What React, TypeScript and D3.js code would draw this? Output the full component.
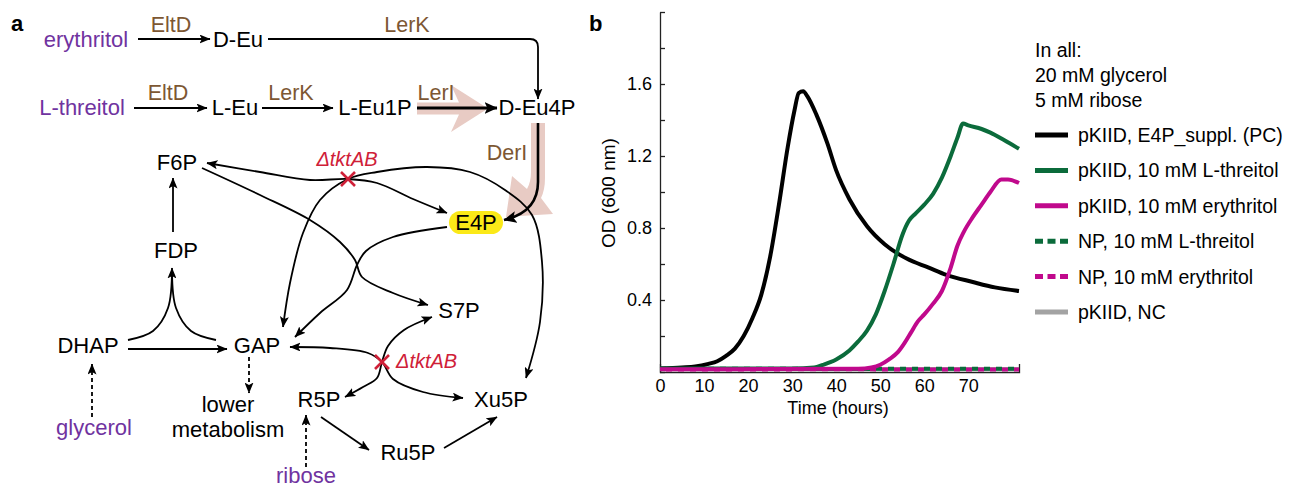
import React, { useEffect, useRef } from 'react';
import * as d3 from 'd3';

// growth curves, [time (h), OD600]
const pkiidSuppl: [number, number][] = [
  [0, 0.02], [5, 0.025], [8, 0.03], [11, 0.045], [13, 0.06], [15, 0.09], [17, 0.13],
  [19, 0.2], [21, 0.3], [23, 0.43], [25, 0.64], [27, 0.93], [29, 1.25], [30.5, 1.45],
  [31.5, 1.55], [32.5, 1.56], [33.5, 1.53], [35.5, 1.43], [38, 1.27], [40, 1.12],
  [43, 0.96], [47, 0.81], [51, 0.71], [56, 0.63], [61, 0.58], [65, 0.54], [71, 0.5],
  [76, 0.47], [81.5, 0.45],
];
const pkiidThreitol: [number, number][] = [
  [0, 0.02], [30, 0.02], [35, 0.025], [37, 0.04], [40, 0.07], [43, 0.12], [45, 0.17],
  [47, 0.23], [49, 0.32], [51, 0.45], [53, 0.6], [55, 0.76], [56.5, 0.84], [58, 0.88],
  [60, 0.93], [62, 0.99], [64, 1.08], [66, 1.2], [67.5, 1.3], [68.8, 1.38], [70, 1.37],
  [73, 1.35], [75, 1.33], [78, 1.29], [81.5, 1.24],
];
const pkiidErythritol: [number, number][] = [
  [0, 0.015], [45, 0.018], [48, 0.025], [50, 0.04], [52, 0.07], [54, 0.11], [55.5, 0.16],
  [57, 0.22], [58.5, 0.28], [60, 0.32], [62, 0.38], [64, 0.45], [66, 0.58], [67.5, 0.7],
  [69, 0.78], [71, 0.86], [73, 0.93], [75, 1.0], [77.5, 1.07], [79, 1.07], [81.5, 1.05],
];
const npThreitol: [number, number][] = [
  [0, 0.018], [20, 0.018], [40, 0.017], [60, 0.018], [81.5, 0.018],
];
const npErythritol: [number, number][] = [
  [0, 0.014], [20, 0.014], [40, 0.015], [60, 0.014], [81.5, 0.014],
];
const pkiidNC: [number, number][] = [
  [0, 0.016], [20, 0.016], [40, 0.016], [60, 0.016], [81.5, 0.016],
];

const legendLabels = [
  'pKIID, E4P_suppl. (PC)',
  'pKIID, 10 mM L-threitol',
  'pKIID, 10 mM erythritol',
  'NP, 10 mM L-threitol',
  'NP, 10 mM erythritol',
  'pKIID, NC',
];
const legendNotes = ['In all:', '20 mM glycerol', '5 mM ribose'];
const timeTicks = [0, 10, 20, 30, 40, 50, 60, 70];
const odTicks = [0, 0.2, 0.4, 0.6, 0.8, 1.0, 1.2, 1.4, 1.6, 1.8, 2.0];
const odLabels = [0.4, 0.8, 1.2, 1.6];

// panel a: pathway names
const substrates = ['erythritol', 'L-threitol', 'glycerol', 'ribose'];
const metabolites = ['D-Eu', 'L-Eu', 'L-Eu1P', 'D-Eu4P', 'F6P', 'FDP', 'DHAP', 'GAP', 'E4P', 'S7P', 'R5P', 'Ru5P', 'Xu5P'];
const enzymes = ['EltD', 'LerK', 'EltD', 'LerK', 'LerI', 'DerI'];
const knockout = 'ΔtktAB';

const FONT = '"Liberation Sans", Arial, Helvetica, sans-serif';
const PURPLE = '#7033a0';
const BROWN = '#7d5733';
const RED = '#cf2038';
const GREEN = '#0b6b3b';
const MAGENTA = '#c0098c';

// layout of the diagram (text centre x, baseline y)
const nodePos: Record<string, [number, number]> = {
  erythritol: [86, 47], 'L-threitol': [82, 115], glycerol: [94, 435], ribose: [306, 483],
  'D-Eu': [238, 47], 'L-Eu': [235, 115], 'L-Eu1P': [375, 115], 'D-Eu4P': [537, 115],
  F6P: [177, 170], FDP: [176, 258], DHAP: [88, 353], GAP: [257, 353], E4P: [476, 230],
  S7P: [459, 318], R5P: [319, 407], Ru5P: [408, 460], Xu5P: [501, 407],
};
const enzymePos: [number, number][] = [[171, 32], [407, 32], [168, 100], [291, 100], [436, 100], [507, 160]];

const App = () => {
  const svgRef = useRef<SVGSVGElement>(null);

  useEffect(() => {
    const svg = d3.select(svgRef.current);
    svg.selectAll('*').remove();
    svg.attr('font-family', FONT);

    // arrow heads
    const defs = svg.append('defs');
    const marker = (id: string, w: number, h: number) => {
      defs
        .append('marker')
        .attr('id', id)
        .attr('viewBox', `0 0 ${w} ${h}`)
        .attr('refX', w - 0.5)
        .attr('refY', h / 2)
        .attr('markerWidth', w)
        .attr('markerHeight', h)
        .attr('markerUnits', 'userSpaceOnUse')
        .attr('orient', 'auto-start-reverse')
        .append('path')
        .attr('d', `M0,0 L${w},${h / 2} L0,${h} L${w * 0.22},${h / 2} Z`)
        .attr('fill', '#000');
    };
    marker('ah', 11, 9);
    marker('ahBig', 13, 12);

    // ---------- panel a ----------
    const a = svg.append('g');
    a.append('text').attr('x', 11).attr('y', 31).attr('font-size', 22).attr('font-weight', 'bold').text('a');

    // pale flux arrows
    a.append('path')
      .attr('d', 'M417,102.5 L459,102.5 L451,85 L488,108.5 L451,132 L459,114.5 L417,114.5 Z')
      .attr('fill', '#e8cbc4');
    a.append('path')
      .attr('d', 'M531,123 L545,123 L545,178 Q545,190 541,198 L553,214 L506,217 L512,176 L527,189 Q531,182 531,172 Z')
      .attr('fill', '#e8cbc4');

    // yellow E4P highlight
    a.append('rect')
      .attr('x', 449).attr('y', 211).attr('width', 54).attr('height', 23).attr('rx', 11.5)
      .attr('fill', '#fbe918');

    const line = d3.line().curve(d3.curveCatmullRom.alpha(0.5));
    const edge = (pts: [number, number][], opts: { start?: boolean; end?: boolean; w?: number; dash?: string; big?: boolean } = {}) => {
      const p = a.append('path')
        .attr('d', line(pts))
        .attr('fill', 'none')
        .attr('stroke', '#000')
        .attr('stroke-width', opts.w ?? 1.8);
      const m = opts.big ? 'url(#ahBig)' : 'url(#ah)';
      if (opts.end !== false) p.attr('marker-end', m);
      if (opts.start) p.attr('marker-start', m);
      if (opts.dash) p.attr('stroke-dasharray', opts.dash);
      return p;
    };

    // linear steps
    edge([[138, 39], [210, 39]]);
    a.append('path')
      .attr('d', 'M268,39 H530 Q538,39 538,47 V99')
      .attr('fill', 'none').attr('stroke', '#000').attr('stroke-width', 1.8)
      .attr('marker-end', 'url(#ah)');
    edge([[134, 108], [207, 108]]);
    edge([[262, 108], [333, 108]]);
    edge([[417, 108], [497, 108]], { w: 3, big: true });
    a.append('path')
      .attr('d', 'M538,123 V182 Q538,212 504,220')
      .attr('fill', 'none').attr('stroke', '#000').attr('stroke-width', 2.6)
      .attr('marker-end', 'url(#ahBig)');
    edge([[173, 232], [173, 178]]);
    edge([[128, 349], [227, 349]]);
    edge([[321, 417], [369, 450]]);
    edge([[444, 448], [497, 417]]);
    edge([[128, 340], [153, 331], [168, 308], [172, 268]]);
    edge([[216, 340], [191, 331], [176, 308], [172, 272]], { end: false });
    edge([[92, 417], [92, 364]], { dash: '4,3' });
    edge([[249, 357], [249, 393]], { dash: '4,3' });
    edge([[306, 467], [306, 415]], { dash: '4,3' });

    // transketolase / transaldolase crossings
    edge([[207, 163], [260, 172], [310, 180], [348, 179], [377, 183], [413, 199], [447, 213]], { start: true });
    edge([[283, 327], [290, 283], [303, 233], [320, 200], [348, 179], [377, 172], [427, 167], [470, 172], [505, 190], [532, 215], [542, 262], [540, 322], [526, 378]], { start: true });
    edge([[202, 168], [260, 195], [310, 220], [340, 242], [355, 260], [362, 277], [393, 293], [428, 305]]);
    edge([[447, 227], [393, 237], [366, 251], [357, 265], [347, 290], [320, 313], [295, 337]]);
    edge([[290, 347], [330, 348], [368, 353], [382, 362], [393, 379], [423, 392], [463, 398]], { start: true });
    edge([[432, 317], [404, 330], [388, 346], [382, 362], [377, 378], [363, 387], [345, 397]], { start: true });

    // knockouts
    const cross = (cx: number, cy: number) => {
      a.append('path')
        .attr('d', `M${cx - 7},${cy - 7} L${cx + 7},${cy + 7} M${cx + 7},${cy - 7} L${cx - 7},${cy + 7}`)
        .attr('stroke', RED).attr('stroke-width', 2.6).attr('fill', 'none');
    };
    cross(348, 179);
    cross(382, 362);
    a.append('text').attr('x', 347).attr('y', 166).attr('text-anchor', 'middle')
      .attr('font-size', 20).attr('font-style', 'italic').attr('fill', RED).text(knockout);
    a.append('text').attr('x', 396).attr('y', 368)
      .attr('font-size', 20).attr('font-style', 'italic').attr('fill', RED).text(knockout);

    // names
    const names = [...substrates.map((s) => ({ s, c: PURPLE })), ...metabolites.map((s) => ({ s, c: '#000' }))];
    a.selectAll('.node')
      .data(names)
      .enter()
      .append('text')
      .attr('x', (d) => nodePos[d.s][0])
      .attr('y', (d) => nodePos[d.s][1])
      .attr('text-anchor', 'middle')
      .attr('font-size', 22)
      .attr('fill', (d) => d.c)
      .text((d) => d.s);
    a.selectAll('.enz')
      .data(enzymes)
      .enter()
      .append('text')
      .attr('x', (d, i) => enzymePos[i][0])
      .attr('y', (d, i) => enzymePos[i][1])
      .attr('text-anchor', 'middle')
      .attr('font-size', 21.5)
      .attr('fill', BROWN)
      .text((d) => d);
    ['lower', 'metabolism'].forEach((t, i) => {
      a.append('text').attr('x', 228).attr('y', 412 + i * 25).attr('text-anchor', 'middle')
        .attr('font-size', 22).text(t);
    });

    // ---------- panel b ----------
    const b = svg.append('g');
    b.append('text').attr('x', 589).attr('y', 31).attr('font-size', 22).attr('font-weight', 'bold').text('b');

    const x = d3.scaleLinear().domain([0, 81.5]).range([660, 1019]);
    const y = d3.scaleLinear().domain([0, 2]).range([372, 12]);

    const yAxis = b.append('g')
      .attr('transform', 'translate(660,0)')
      .call(
        d3.axisLeft(y)
          .tickValues(odTicks)
          .tickSizeInner(-5)
          .tickSizeOuter(0)
          .tickPadding(8)
          .tickFormat((d) => (odLabels.includes(+d) ? d3.format('.1f')(+d) : ''))
      );
    yAxis.attr('font-family', FONT).attr('font-size', 18);
    yAxis.selectAll('line, path').attr('stroke', '#222').attr('stroke-width', 1.3);

    const xAxis = b.append('g')
      .attr('transform', 'translate(0,372)')
      .call(d3.axisBottom(x).tickValues(timeTicks).tickSizeInner(0).tickSizeOuter(-8).tickPadding(7));
    xAxis.attr('font-family', FONT).attr('font-size', 18);
    xAxis.selectAll('line, path').attr('stroke', '#222').attr('stroke-width', 1.3);

    b.append('text').attr('x', 838).attr('y', 414).attr('text-anchor', 'middle').attr('font-size', 18).text('Time (hours)');
    b.append('text').attr('transform', 'translate(615,193) rotate(-90)').attr('text-anchor', 'middle')
      .attr('font-size', 19).text('OD (600 nm)');

    const series = [
      { data: pkiidNC, color: '#a3a3a3', dash: null, off: 0, legend: 5 },
      { data: npThreitol, color: GREEN, dash: '6,6', off: 0, legend: 3 },
      { data: npErythritol, color: MAGENTA, dash: '6,6', off: 6, legend: 4 },
      { data: pkiidSuppl, color: '#000', dash: null, off: 0, legend: 0 },
      { data: pkiidThreitol, color: GREEN, dash: null, off: 0, legend: 1 },
      { data: pkiidErythritol, color: MAGENTA, dash: null, off: 0, legend: 2 },
    ];
    const growth = d3.line<[number, number]>()
      .x((d) => x(d[0]))
      .y((d) => y(d[1]))
      .curve(d3.curveMonotoneX);

    series.forEach((s) => {
      const p = b.append('path')
        .attr('d', growth(s.data))
        .attr('fill', 'none')
        .attr('stroke', s.color)
        .attr('stroke-width', 4)
        .attr('stroke-linejoin', 'round');
      if (s.dash) p.attr('stroke-dasharray', s.dash).attr('stroke-dashoffset', s.off);
    });

    // legend
    const lg = b.append('g').attr('font-size', 19.5);
    legendNotes.forEach((t, i) => {
      lg.append('text').attr('x', 1035).attr('y', 57 + i * 25).text(t);
    });
    const ordered = [...series].sort((p, q) => p.legend - q.legend);
    ordered.forEach((s, i) => {
      const ly = 135 + i * 35.4;
      const l = lg.append('line')
        .attr('x1', 1035).attr('x2', 1068).attr('y1', ly).attr('y2', ly)
        .attr('stroke', s.color).attr('stroke-width', 5);
      if (s.dash) l.attr('stroke-dasharray', '8,4.5');
      lg.append('text').attr('x', 1078).attr('y', ly + 7).text(legendLabels[i]);
    });
  }, []);

  return (
    <svg
      ref={svgRef}
      width={1303}
      height={489}
      style={{ position: 'absolute', left: 0, top: 0, background: '#fff' }}
    />
  );
};

export default App;
